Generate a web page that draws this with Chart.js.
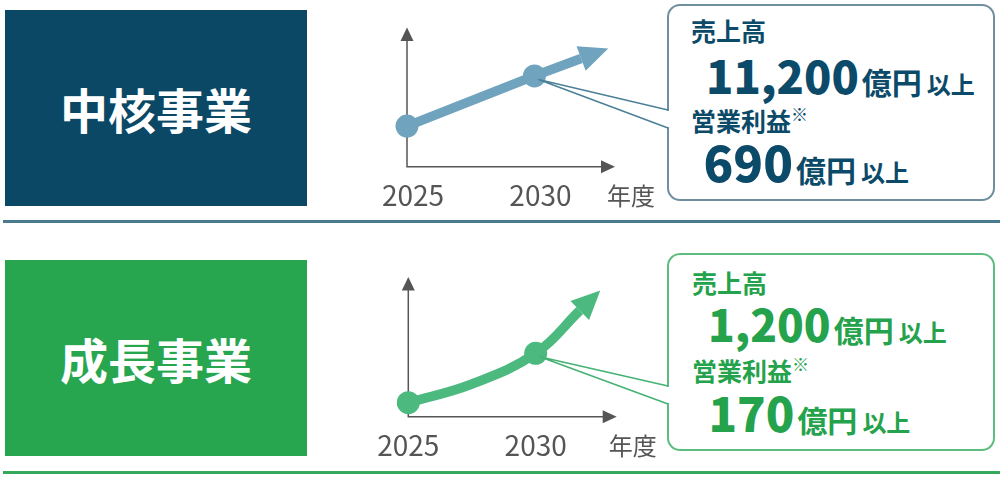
<!DOCTYPE html>
<html lang="ja"><head><meta charset="utf-8">
<script src="https://cdn.jsdelivr.net/npm/chart.js@4.4.1/dist/chart.umd.min.js"></script>
<style>
html,body{margin:0;padding:0;background:#fff;}
body{width:1003px;height:477px;position:relative;overflow:hidden;font-family:"Noto Sans CJK JP","Noto Sans",sans-serif;}
.seg{position:absolute;left:5px;width:302px;height:196px;display:flex;align-items:center;justify-content:center;color:#fff;font-weight:700;font-size:48px;}
.rule{position:absolute;left:3px;width:997px;height:3px;}
.call{position:absolute;left:667px;width:328px;box-sizing:border-box;border:2px solid;border-radius:13px;background:#fff;}
.ln{position:absolute;display:flex;align-items:baseline;line-height:1;white-space:nowrap;font-weight:700;}
.ln span{line-height:1;}
.num{font-weight:900;}
canvas{position:absolute;left:0;z-index:2;pointer-events:none;}
</style></head><body>
<div id="page"></div>
<canvas id="c0" width="1003" height="240" style="top:0px;width:1003px;height:240px"></canvas>
<canvas id="c1" width="1003" height="237" style="top:240px;width:1003px;height:237px"></canvas>
<script>
// ---- data ----
const segmentNames = ['中核事業', '成長事業'];
const salesLabel = '売上高';
const profitLabel = '営業利益';
const noteMark = '※';
const salesValues = ['11,200', '1,200'];
const profitValues = ['690', '170'];
const unitText = '億円';
const moreText = '以上';

const years = [2025, 2030];
const tickLabels = ['2025', '2030'];
const axisUnit = '年度';
// illustrative trend lines (x = fiscal year, y = relative level 0-100); last value = arrow shaft end
const coreX = [2025, 2030, 2031.83];
const coreY = [29.2, 65.2, 77.7];
const growthX = [2025, 2027.5, 2030, 2031.73];
const growthY = [10.0, 23.4, 45.4, 76.0];

// ---- styles / layout ----
const looks = [
  {box:'#0a4866', rule:'#4a7a8e', ruleTop:220, boxTop:10, text:'#0c4a69', border:'#6f8fa0', callTop:4, callH:197,
   lines:[{l:691,t:17.6},{l:706,t:52,big:45},{l:691,t:107.6},{l:703.5,t:136,big:49}]},
  {box:'#27a64f', rule:'#36a85a', ruleTop:471, boxTop:260, text:'#25a24c', border:'#5dbd7e', callTop:253, callH:198,
   lines:[{l:692,t:269.6},{l:708,t:300.5,big:44}, {l:692,t:357.6},{l:708.5,t:388,big:47}]}
];

const page = document.getElementById('page');
looks.forEach((s, i) => {
  const seg = document.createElement('div');
  seg.className = 'seg'; seg.style.top = s.boxTop + 'px'; seg.style.background = s.box;
  seg.textContent = segmentNames[i]; page.appendChild(seg);
  const rule = document.createElement('div');
  rule.className = 'rule'; rule.style.top = s.ruleTop + 'px'; rule.style.background = s.rule; page.appendChild(rule);
  const call = document.createElement('div');
  call.className = 'call'; call.id = 'call' + i; call.style.top = s.callTop + 'px'; call.style.height = s.callH + 'px';
  call.style.borderColor = s.border; page.appendChild(call);
  const mk = (pos, html) => {
    const d = document.createElement('div'); d.className = 'ln';
    d.style.left = pos.l + 'px'; d.style.top = pos.t + 'px'; d.style.color = s.text; d.innerHTML = html; page.appendChild(d);
  };
  const valueLine = (v, big) =>
    `<span class="num" style="font-size:${big}px">${v}</span><span style="font-size:30px;margin-left:3px">${unitText}</span><span style="font-size:24px;margin-left:5px">${moreText}</span>`;
  mk(s.lines[0], `<span style="font-size:25px">${salesLabel}</span>`);
  mk(s.lines[1], valueLine(salesValues[i], s.lines[1].big));
  mk(s.lines[2], `<span style="font-size:25px">${profitLabel}</span><span style="font-size:17px;position:relative;top:-10px;font-weight:400">${noteMark}</span>`);
  mk(s.lines[3], valueLine(profitValues[i], s.lines[3].big));
});

const decor = {
  id: 'decor',
  beforeDatasetsDraw(chart, args, o) {
    const {ctx, chartArea: a} = chart;
    ctx.save();
    ctx.strokeStyle = o.axisColor; ctx.fillStyle = o.axisColor; ctx.lineWidth = 1.5;
    ctx.beginPath();
    ctx.moveTo(a.left, a.bottom); ctx.lineTo(a.left, a.top + 12);
    ctx.moveTo(a.left - 0.75, a.bottom); ctx.lineTo(a.right - 12, a.bottom);
    ctx.stroke();
    ctx.beginPath(); ctx.moveTo(a.left, a.top); ctx.lineTo(a.left - 6.5, a.top + 13.5); ctx.lineTo(a.left + 6.5, a.top + 13.5); ctx.closePath(); ctx.fill();
    ctx.beginPath(); ctx.moveTo(a.right, a.bottom); ctx.lineTo(a.right - 14, a.bottom - 6.5); ctx.lineTo(a.right - 14, a.bottom + 6.5); ctx.closePath(); ctx.fill();
    ctx.restore();
  },
  afterDatasetsDraw(chart, args, o) {
    const {ctx} = chart;
    const pts = chart.getDatasetMeta(0).data;
    const last = pts[pts.length - 1];
    let dx, dy;
    if (last.cp1x !== undefined && Math.hypot(last.x - last.cp1x, last.y - last.cp1y) > 0.5) {
      dx = last.x - last.cp1x; dy = last.y - last.cp1y;
    } else {
      const p = pts[pts.length - 2]; dx = last.x - p.x; dy = last.y - p.y;
    }
    const L = Math.hypot(dx, dy), ux = dx / L, uy = dy / L, nx = -uy, ny = ux;
    ctx.save();
    ctx.fillStyle = o.lineColor;
    ctx.beginPath();
    ctx.moveTo(last.x + ux * o.headLen, last.y + uy * o.headLen);
    ctx.lineTo(last.x + nx * o.headW / 2, last.y + ny * o.headW / 2);
    ctx.lineTo(last.x - nx * o.headW / 2, last.y - ny * o.headW / 2);
    ctx.closePath(); ctx.fill();
    // leader lines to the callout
    const xs = chart.data.datasets[0].data.map(d => d.x);
    const p30 = pts[xs.indexOf(years[1])];
    const box = document.getElementById(o.callId);
    const bx = box.offsetLeft + 1;
    const y1 = o.leaderY[0] - o.canvasTop, y2 = o.leaderY[1] - o.canvasTop;
    ctx.fillStyle = '#fff';
    ctx.fillRect(bx - 1.5, y1 + 1, 3.5, y2 - y1 - 2);
    ctx.strokeStyle = o.leaderColor; ctx.lineWidth = 1.6;
    ctx.beginPath();
    ctx.moveTo(p30.x + 4, p30.y + 3.5); ctx.lineTo(bx, y1);
    ctx.moveTo(p30.x + 4, p30.y + 3.5); ctx.lineTo(bx, y2);
    ctx.stroke();
    ctx.restore();
  },
  afterDraw(chart, args, o) {
    const {ctx, chartArea: a, scales: {x}} = chart;
    ctx.save();
    ctx.fillStyle = o.tickColor; ctx.textAlign = 'center'; ctx.textBaseline = 'alphabetic';
    ctx.font = '28px "Noto Sans CJK JP", "Noto Sans", sans-serif';
    years.forEach((yr, i) => ctx.fillText(tickLabels[i], x.getPixelForValue(yr) + o.tickOffset, a.bottom + 39));
    ctx.font = '24px "Noto Sans CJK JP", sans-serif';
    ctx.fillText(axisUnit, a.right + 16, a.bottom + 38);
    ctx.restore();
  }
};

function makeChart(id, xs, ys, st) {
  return new Chart(document.getElementById(id), {
    type: 'line',
    data: {datasets: [{
      data: xs.map((v, i) => ({x: v, y: ys[i]})),
      borderColor: st.color, backgroundColor: st.color, borderWidth: 9.5,
      pointRadius: xs.map(v => years.includes(v) ? 11.5 : 0),
      pointHoverRadius: 0, pointBackgroundColor: st.color, pointBorderWidth: 0,
      tension: st.tension, borderCapStyle: 'butt', borderJoinStyle: 'round', clip: false, fill: false
    }]},
    options: {
      responsive: false, maintainAspectRatio: false, animation: false, devicePixelRatio: 1,
      events: [],
      layout: {padding: st.padding},
      scales: {
        x: {type: 'linear', display: false, min: 2025, max: st.xMax},
        y: {type: 'linear', display: false, min: 0, max: 100}
      },
      plugins: {
        legend: {display: false}, tooltip: {enabled: false},
        decor: {axisColor: '#555555', tickColor: '#555555', lineColor: st.color, headLen: st.headLen, headW: st.headW,
                leaderColor: st.leader, leaderY: st.leaderY, callId: st.callId, canvasTop: st.canvasTop, tickOffset: st.tickOffset}
      }
    },
    plugins: [decor]
  });
}

makeChart('c0', coreX, coreY, {color: '#70a3bd', tension: 0, padding: {left: 407, top: 27.5, right: 388, bottom: 73.3},
  xMax: 2033.16, headLen: 29, headW: 26, leader: '#4c8098', leaderY: [110, 128], callId: 'call0', canvasTop: 0, tickOffset: 6});
makeChart('c1', growthX, growthY, {color: '#4cb97f', tension: 0.4, padding: {left: 408.3, top: 37, right: 386.3, bottom: 60.3},
  xMax: 2033.18, headLen: 28.6, headW: 26.7, leader: '#45b273', leaderY: [386, 404], callId: 'call1', canvasTop: 240, tickOffset: 0});
</script>
</body></html>
